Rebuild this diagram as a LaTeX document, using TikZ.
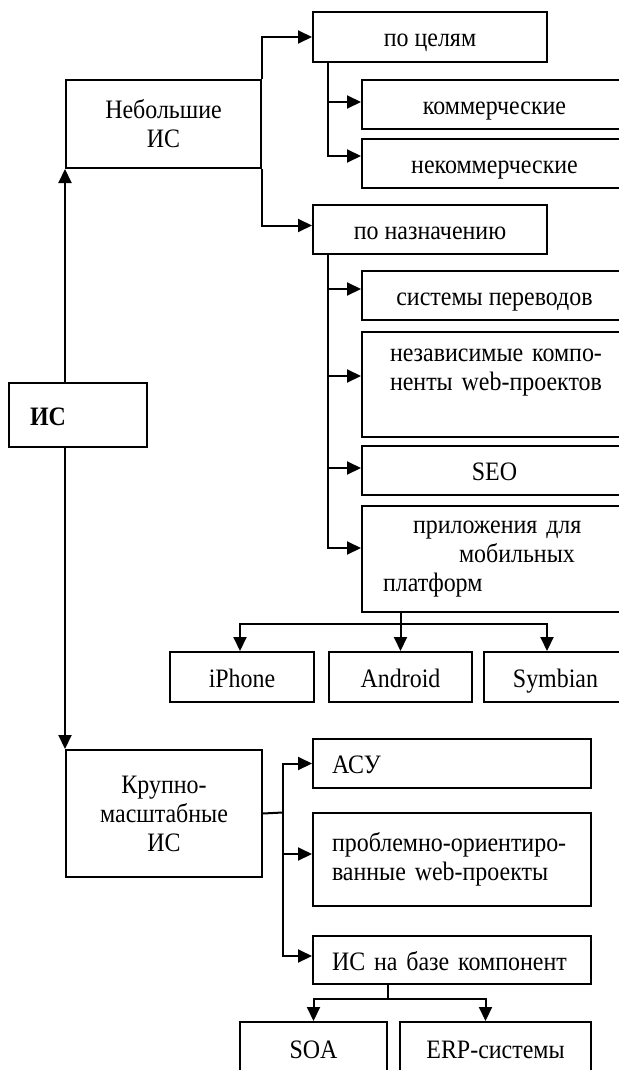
\documentclass[tikz,border=0pt]{standalone}
\usepackage{fontspec}
\setmainfont[FakeStretch=0.9]{Liberation Serif}
\usetikzlibrary{arrows.meta}
\newcommand\boxfont{\fontsize{13.3}{14.5}\selectfont}
\tikzset{
	box/.style={draw, line width=1pt, inner sep=0pt, align=center, font=\boxfont},
	lbox/.style={box, align=left},
	oneline/.style={text height=11pt, text depth=1pt},
	conn/.style={line width=1pt},
	arr/.style={line width=1pt, -{Triangle[length=7pt,width=6.5pt]}}
}

\begin{document}
\begin{tikzpicture}[x=0.5pt, y=-0.5pt]
			%%%%% START %%%%%
			\useasboundingbox (0,0) rectangle (619,1070);
			\clip (0,0) rectangle (619,1070);
			
			\node[lbox, oneline, text width=48pt, inner xsep=10.5pt, minimum height=32pt] (is) at (78,415) {\textbf{ИС}};
			
			\node[box, minimum width=97.5pt, minimum height=44pt] (nebol) at (163.5,124) {Небольшие\\ИС};
			\node[box, oneline, minimum width=117pt, minimum height=25pt] (celi) at (430,37) {по целям};
			\node[box, oneline, minimum width=132.5pt, minimum height=24.5pt] (komm) at (494.5,104.5) {коммерческие};
			\node[box, oneline, minimum width=132.5pt, minimum height=24.5pt] (nekomm) at (494.5,163.5) {некоммерческие};
			\node[box, oneline, minimum width=117pt, minimum height=24.5pt] (naznach) at (430,229.5) {по назначению};
			\node[box, oneline, minimum width=132.5pt, minimum height=24.5pt] (sys) at (494.5,295.5) {системы переводов};
			\node[lbox, text width=104.5pt, inner xsep=14pt, minimum height=52.5pt] (nezav) at (494.5,384.5) {\mbox{независимые компо-}\\\mbox{ненты web-проектов}\\\mbox{}};
			\node[box, oneline, minimum width=132.5pt, minimum height=24.5pt] (seo) at (494.5,470.5) {SEO};
			\node[lbox, text width=111.5pt, inner xsep=10.5pt, minimum height=53pt] (pril) at (494.5,559) {\hspace*{15pt}приложения для\\\hspace*{38pt}мобильных\\платформ};
			
			\node[box, oneline, minimum width=71.75pt, minimum height=25pt] (iph) at (242,677) {iPhone};
			\node[box, oneline, minimum width=71.5pt, minimum height=25pt] (andr) at (400.5,677) {Android};
			\node[box, oneline, minimum width=71.5pt, minimum height=25pt] (symb) at (555.5,677) {Symbian};
			
			\node[box, minimum width=98pt, minimum height=63.5pt] (krup) at (164,813.5) {Крупно-\\масштабные\\ИС};
			\node[lbox, oneline, text width=120pt, inner xsep=9.5pt, minimum height=24.5pt] (asu) at (452,763.5) {АСУ};
			\node[lbox, text width=120pt, inner xsep=9.5pt, minimum height=46.5pt] (probl) at (452,859.5) {\mbox{проблемно-ориентиро-}\\\mbox{ванные web-проекты}};
			\node[lbox, oneline, text width=120pt, inner xsep=9.5pt, minimum height=24pt] (baza) at (452,960) {\mbox{ИС на базе компонент}};
			\node[box, oneline, minimum width=73.5pt, minimum height=26pt] (soa) at (313.5,1048) {SOA};
			\node[box, oneline, minimum width=95.5pt, minimum height=26pt] (erp) at (495.5,1048) {ERP-системы};
			
			\draw[arr] (is.north -| nebol.south west) -- (nebol.south west);
			\draw[arr] (is.south -| krup.north west) -- (krup.north west);
			
			\draw[arr] (nebol.north east) |- (celi.west);
			\draw[arr] (nebol.south east) |- ([yshift=2pt]naznach.west);
			
			\draw[arr] (celi.south west) ++(16,0) coordinate (c1) |- ([yshift=1.25pt]komm.west);
			\draw[arr] (c1) |- ([yshift=3.75pt]nekomm.west);
			
			\draw[arr] (naznach.south west) ++(16,0) coordinate (c2) |- ([yshift=3.25pt]sys.west);
			\draw[arr] (c2) |- ([yshift=4.25pt]nezav.west);
			\draw[arr] (c2) |- ([yshift=1.25pt]seo.west);
			\draw[arr] (c2) |- ([yshift=5.5pt]pril.west);
			
			\draw[conn] (pril.south -| andr.north) -- ++(0,11) coordinate (p1);
			\draw[arr] (p1) -- (andr.north);
			\draw[arr] (p1) -| ([xshift=-1pt]iph.north);
			\draw[arr] (p1) -| ([xshift=-4.25pt]symb.north);
			
			\draw[conn] (krup.east) -- ++(19.5,-1) coordinate (k1);
			\draw[arr] (k1) |- (asu.west);
			\draw[arr] (k1) |- ([yshift=2.75pt]probl.west);
			\draw[arr] (k1) |- ([yshift=2pt]baza.west);
			
			\draw[conn] (baza.south -| soa.east) -- ++(0,14) coordinate (b1);
			\draw[arr] (b1) -| (soa.north);
			\draw[arr] (b1) -| ([xshift=-5pt]erp.north);
			
			%%%%% END %%%%%
\end{tikzpicture}
\end{document}
